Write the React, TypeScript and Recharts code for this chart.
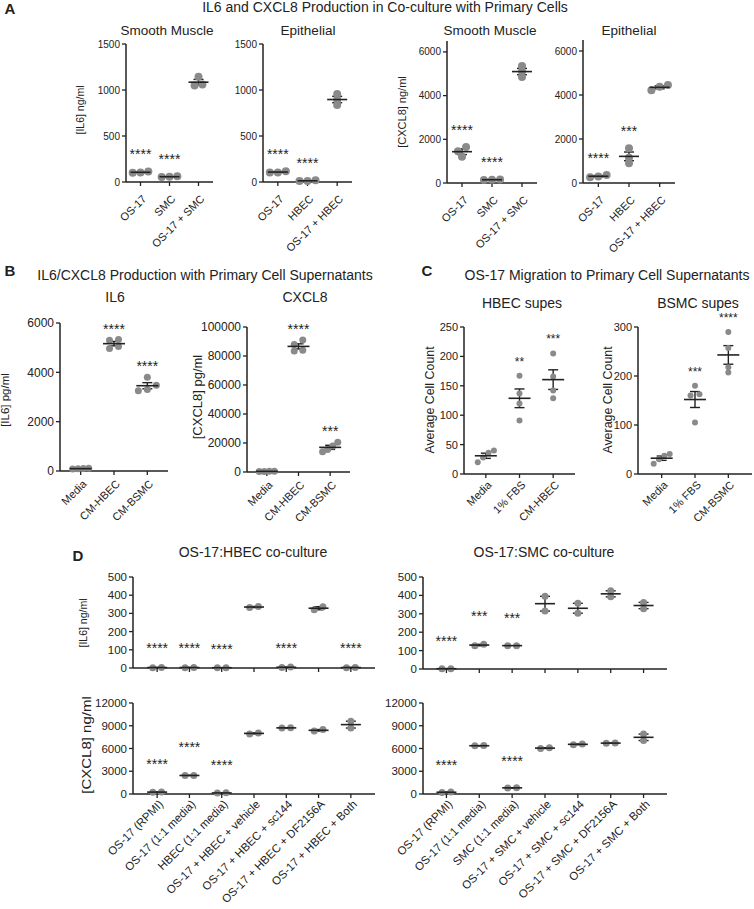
import { ScatterChart, Scatter, XAxis, YAxis, ErrorBar } from 'recharts';

const INK = '#222';
const DOT = '#8a8a8a';
const FONT = '"Liberation Sans", Arial, sans-serif';

// A: IL6 / CXCL8 in co-culture with primary cells (n = 3)
const aSmcCats = ['OS-17', 'SMC', 'OS-17 + SMC'];
const aHbecCats = ['OS-17', 'HBEC', 'OS-17 + HBEC'];
const aIl6Ticks = [0, 500, 1000, 1500];
const aCxTicks = [0, 2000, 4000, 6000];
const aIl6Smc = [[115, 102, 100], [62, 56, 54], [1145, 1050, 1060]];
const aIl6SmcSig = ['****', '****', ''];
const aIl6Hbec = [[118, 104, 102], [18, 12, 10], [957, 895, 837]];
const aIl6HbecSig = ['****', '****', ''];
const aCxSmc = [[1650, 1450, 1200], [160, 150, 140], [5350, 5100, 4850]];
const aCxSmcSig = ['****', '****', ''];
const aCxHbec = [[360, 300, 260], [1580, 1150, 900], [4450, 4380, 4220]];
const aCxHbecSig = ['****', '***', ''];

// B: production with primary cell supernatants (n = 4)
const bCats = ['Media', 'CM-HBEC', 'CM-BSMC'];
const bIl6Ticks = [0, 2000, 4000, 6000];
const bCxTicks = [0, 20000, 40000, 60000, 80000, 100000];
const bIl6 = [[100, 90, 110, 80], [5330, 5300, 4970, 5050], [3800, 3480, 3250, 3300]];
const bIl6Sig = ['', '****', '****'];
const bCx = [[600, 400, 500, 300], [91000, 88000, 84000, 83500], [20500, 18000, 14000, 15500]];
const bCxSig = ['', '****', '***'];

// C: migration to supernatants (n = 4)
const cHbecCats = ['Media', '1% FBS', 'CM-HBEC'];
const cBsmcCats = ['Media', '1% FBS', 'CM-BSMC'];
const cHbecTicks = [0, 50, 100, 150, 200, 250];
const cBsmcTicks = [0, 100, 200, 300];
const cHbec = [[40, 36, 20, 28], [167, 137, 120, 91], [205, 166, 142, 129]];
const cHbecSig = ['', '**', '***'];
const cBsmc = [[41, 37, 30, 21], [180, 163, 160, 105], [290, 257, 218, 207]];
const cBsmcSig = ['', '***', '****'];

// D: co-culture with inhibitors (n = 2)
const dHbecCats = ['OS-17 (RPMI)', 'OS-17 (1:1 media)', 'HBEC (1:1 media)', 'OS-17 + HBEC + vehicle', 'OS-17 + HBEC + sc144', 'OS-17 + HBEC + DF2156A', 'OS-17 + HBEC + Both'];
const dSmcCats = ['OS-17 (RPMI)', 'OS-17 (1:1 media)', 'SMC (1:1 media)', 'OS-17 + SMC + vehicle', 'OS-17 + SMC + sc144', 'OS-17 + SMC + DF2156A', 'OS-17 + SMC + Both'];
const dIl6Ticks = [0, 100, 200, 300, 400, 500];
const dCxTicks = [0, 3000, 6000, 9000, 12000];
const dIl6Hbec = [[2, 3], [2, 3], [1, 2], [332, 338], [3, 5], [320, 337], [2, 3]];
const dIl6HbecSig = ['****', '****', '****', '', '****', '', '****'];
const dIl6Smc = [[1, 2], [126, 134], [127, 127], [395, 315], [303, 357], [392, 425], [328, 362]];
const dIl6SmcSig = ['****', '***', '***', '', '', '', ''];
const dCxHbec = [[240, 260], [2440, 2450], [130, 150], [7920, 8060], [8700, 8740], [8300, 8500], [8700, 9600]];
const dCxHbecSig = ['****', '****', '****', '', '', '', ''];
const dCxSmc = [[210, 250], [6350, 6380], [800, 820], [6000, 6100], [6500, 6600], [6700, 6720], [7050, 7900]];
const dCxSmcSig = ['****', '', '****', '', '', '', ''];

const Y_W = 60;
const M_T = 40;
const M_R = 10;
const X_H = 140;

const avg = (v: number[]) => v.reduce((s, x) => s + x, 0) / v.length;
const sem = (v: number[]) => {
  const m = avg(v);
  const sd = Math.sqrt(v.reduce((s, x) => s + (x - m) ** 2, 0) / (v.length - 1));
  return sd / Math.sqrt(v.length);
};

// spread replicates sideways when they would overlap (like a scatter dot plot)
function jitter(v: number[], yMax: number) {
  const idx = v.map((_, i) => i).sort((a, b) => v[a] - v[b]);
  const off = v.map(() => 0);
  let start = 0;
  for (let k = 1; k <= idx.length; k++) {
    if (k === idx.length || v[idx[k]] - v[idx[k - 1]] > yMax * 0.035) {
      const m = k - start;
      const step = m <= 3 ? 0.27 : 0.16;
      for (let j = start; j < k; j++) off[idx[j]] = (j - start - (m - 1) / 2) * step;
      start = k;
    }
  }
  return off;
}

type PlotProps = {
  cats: string[]; vals: number[][]; sig: string[]; ticks: number[]; yMax: number;
  left: number; right: number; top: number; bottom: number; pad: number;
  dotR: number; tickFs: number; catFs: number; starFs: number; starGap: number;
  catGap: number; showCats: boolean; meanHalf: number;
};

function Plot(p: PlotProps) {
  const n = p.cats.length;
  const plotW = p.right - p.left;
  const plotH = p.bottom - p.top;
  const dots: { x: number; y: number }[] = [];
  const means: { x: number; y: number; sem: number }[] = [];
  const stars: { x: number; y: number; s: string }[] = [];
  p.vals.forEach((v, i) => {
    const off = jitter(v, p.yMax);
    v.forEach((y, j) => dots.push({ x: i + off[j], y }));
    const m = avg(v);
    const e = sem(v);
    means.push({ x: i, y: m, sem: e });
    if (p.sig[i]) stars.push({ x: i, y: Math.max(...v, m + e), s: p.sig[i] });
  });

  const catTick = (t: any) => {
    if (!p.showCats) return <g />;
    const ax = t.y - 4;
    return (
      <g transform={`translate(${t.x + 1},${ax + p.catGap}) rotate(-45)`}>
        <text textAnchor='end' dy='0.72em' fontSize={p.catFs} fill={INK}>{p.cats[t.payload.value]}</text>
      </g>
    );
  };

  return (
    <div style={{ position: 'absolute', left: p.left - Y_W, top: p.top - M_T }}>
      <ScatterChart width={Y_W + plotW + M_R} height={M_T + plotH + X_H} margin={{ top: M_T, right: M_R, bottom: 0, left: 0 }}>
        <XAxis
          type='number' dataKey='x' domain={[-0.5, n - 0.5]} ticks={p.cats.map((_, i) => i)} interval={0}
          padding={{ left: p.pad, right: p.pad }} height={X_H} tickSize={4} tickMargin={0}
          tickLine={{ stroke: INK, strokeWidth: 1.3 }} axisLine={{ stroke: INK, strokeWidth: 1.5 }} tick={catTick}
        />
        <YAxis
          type='number' dataKey='y' domain={[0, p.yMax]} ticks={p.ticks} interval={0} width={Y_W}
          tickSize={4} tickMargin={2} tick={{ fontSize: p.tickFs, fill: INK }}
          tickLine={{ stroke: INK, strokeWidth: 1.3 }} axisLine={{ stroke: INK, strokeWidth: 1.5 }}
        />
        <Scatter data={dots} fill={DOT} isAnimationActive={false}
          shape={(s: any) => <circle cx={s.cx} cy={s.cy} r={p.dotR} fill={DOT} />} />
        <Scatter data={means} isAnimationActive={false}
          shape={(s: any) => <line x1={s.cx - p.meanHalf} x2={s.cx + p.meanHalf} y1={s.cy} y2={s.cy} stroke={INK} strokeWidth={1.6} />}>
          <ErrorBar dataKey='sem' direction='y' width={5} stroke={INK} strokeWidth={1.4} />
        </Scatter>
        <Scatter data={stars} isAnimationActive={false}
          shape={(s: any) => (
            <text x={s.cx} y={s.cy - p.starGap + p.starFs * 0.57} textAnchor='middle' fontSize={p.starFs} fill={INK}>
              {s.payload?.s ?? s.s}
            </text>
          )} />
      </ScatterChart>
    </div>
  );
}

function Txt({ x, y, fs, bold, children }: { x: number; y: number; fs: number; bold?: boolean; children: any }) {
  return (
    <div style={{ position: 'absolute', left: x, top: y, transform: 'translate(-50%,-50%)', fontSize: fs, fontWeight: bold ? 700 : 400, whiteSpace: 'nowrap', lineHeight: 1, color: INK }}>
      {children}
    </div>
  );
}

function YLab({ x, y, fs, sx = 1, children }: { x: number; y: number; fs: number; sx?: number; children: any }) {
  return (
    <div style={{ position: 'absolute', left: x, top: y, transform: `translate(-50%,-50%) rotate(-90deg) scaleX(${sx})`, fontSize: fs, whiteSpace: 'nowrap', lineHeight: 1, color: INK }}>
      {children}
    </div>
  );
}

export default function App() {
  const a = { pad: 0, dotR: 4, tickFs: 10, catFs: 11, starFs: 14, starGap: 20, catGap: 12, showCats: true, meanHalf: 10 };
  const b = { dotR: 3.5, tickFs: 12, catFs: 11, starFs: 14, starGap: 14, catGap: 8, showCats: true, meanHalf: 11 };
  const c = { dotR: 3, tickFs: 11, catFs: 11, starFs: 12, starGap: 17, catGap: 6, showCats: true, meanHalf: 11 };
  const d = { dotR: 3.5, tickFs: 11.5, catFs: 11.5, starFs: 14, catGap: 5, meanHalf: 10 };
  return (
    <div style={{ position: 'absolute', left: 0, top: 0, width: 754, height: 909, background: '#fff', fontFamily: FONT, overflow: 'hidden' }}>
      <Txt x={10} y={8} fs={15} bold>A</Txt>
      <Txt x={385} y={7} fs={14}>IL6 and CXCL8 Production in Co-culture with Primary Cells</Txt>
      <Txt x={167} y={31} fs={13.5}>Smooth Muscle</Txt>
      <Txt x={308} y={31} fs={13.5}>Epithelial</Txt>
      <Txt x={490} y={31} fs={13.5}>Smooth Muscle</Txt>
      <Txt x={629} y={31} fs={13.5}>Epithelial</Txt>
      <YLab x={80} y={110} fs={10.5}>[IL6] ng/ml</YLab>
      <YLab x={402} y={112} fs={11}>[CXCL8] ng/ml</YLab>
      <Plot {...a} cats={aSmcCats} vals={aIl6Smc} sig={aIl6SmcSig} ticks={aIl6Ticks} yMax={1500} left={126} right={213} top={44} bottom={182} />
      <Plot {...a} cats={aHbecCats} vals={aIl6Hbec} sig={aIl6HbecSig} ticks={aIl6Ticks} yMax={1500} left={263} right={352} top={44} bottom={182} />
      <Plot {...a} cats={aSmcCats} vals={aCxSmc} sig={aCxSmcSig} ticks={aCxTicks} yMax={6500} left={447} right={537} top={41} bottom={183} />
      <Plot {...a} cats={aHbecCats} vals={aCxHbec} sig={aCxHbecSig} ticks={aCxTicks} yMax={6500} left={583} right={675} top={40} bottom={183} />

      <Txt x={10} y={270} fs={15} bold>B</Txt>
      <Txt x={205} y={275} fs={14}>IL6/CXCL8 Production with Primary Cell Supernatants</Txt>
      <Txt x={115} y={297} fs={14}>IL6</Txt>
      <Txt x={305} y={297} fs={14}>CXCL8</Txt>
      <YLab x={6} y={400} fs={11.5}>[IL6] pg/ml</YLab>
      <YLab x={197} y={397} fs={13}>[CXCL8] pg/ml</YLab>
      <Plot {...b} pad={4} cats={bCats} vals={bIl6} sig={bIl6Sig} ticks={bIl6Ticks} yMax={6000} left={60} right={168} top={323} bottom={471} />
      <Plot {...b} pad={4} cats={bCats} vals={bCx} sig={bCxSig} ticks={bCxTicks} yMax={100000} left={247} right={350} top={327} bottom={472} />

      <Txt x={427} y={270} fs={15} bold>C</Txt>
      <Txt x={607} y={275} fs={14}>OS-17 Migration to Primary Cell Supernatants</Txt>
      <Txt x={522} y={303} fs={14}>HBEC supes</Txt>
      <Txt x={698} y={303} fs={14}>BSMC supes</Txt>
      <YLab x={430} y={400} fs={12.4}>Average Cell Count</YLab>
      <YLab x={608} y={400} fs={12.4}>Average Cell Count</YLab>
      <Plot {...c} pad={5} cats={cHbecCats} vals={cHbec} sig={cHbecSig} ticks={cHbecTicks} yMax={250} left={464} right={575} top={327} bottom={474} />
      <Plot {...c} pad={7} cats={cBsmcCats} vals={cBsmc} sig={cBsmcSig} ticks={cBsmcTicks} yMax={300} left={638} right={752} top={327} bottom={474} />

      <Txt x={78} y={555} fs={15} bold>D</Txt>
      <Txt x={253} y={552} fs={14}>OS-17:HBEC co-culture</Txt>
      <Txt x={544} y={552} fs={14}>OS-17:SMC co-culture</Txt>
      <YLab x={83} y={623} fs={10.5}>[IL6] ng/ml</YLab>
      <YLab x={87} y={745} fs={12} sx={1.25}>[CXCL8] ng/ml</YLab>
      <Plot {...d} pad={8} starGap={22} showCats={false} cats={dHbecCats} vals={dIl6Hbec} sig={dIl6HbecSig} ticks={dIl6Ticks} yMax={500} left={133} right={375} top={577} bottom={668} />
      <Plot {...d} pad={7} starGap={31} showCats={false} cats={dSmcCats} vals={dIl6Smc} sig={dIl6SmcSig} ticks={dIl6Ticks} yMax={500} left={423} right={667} top={577} bottom={669} />
      <Plot {...d} pad={8} starGap={31} showCats cats={dHbecCats} vals={dCxHbec} sig={dCxHbecSig} ticks={dCxTicks} yMax={12000} left={133} right={375} top={703} bottom={794} />
      <Plot {...d} pad={7} starGap={30} showCats cats={dSmcCats} vals={dCxSmc} sig={dCxSmcSig} ticks={dCxTicks} yMax={12000} left={423} right={667} top={703} bottom={794} />
    </div>
  );
}
